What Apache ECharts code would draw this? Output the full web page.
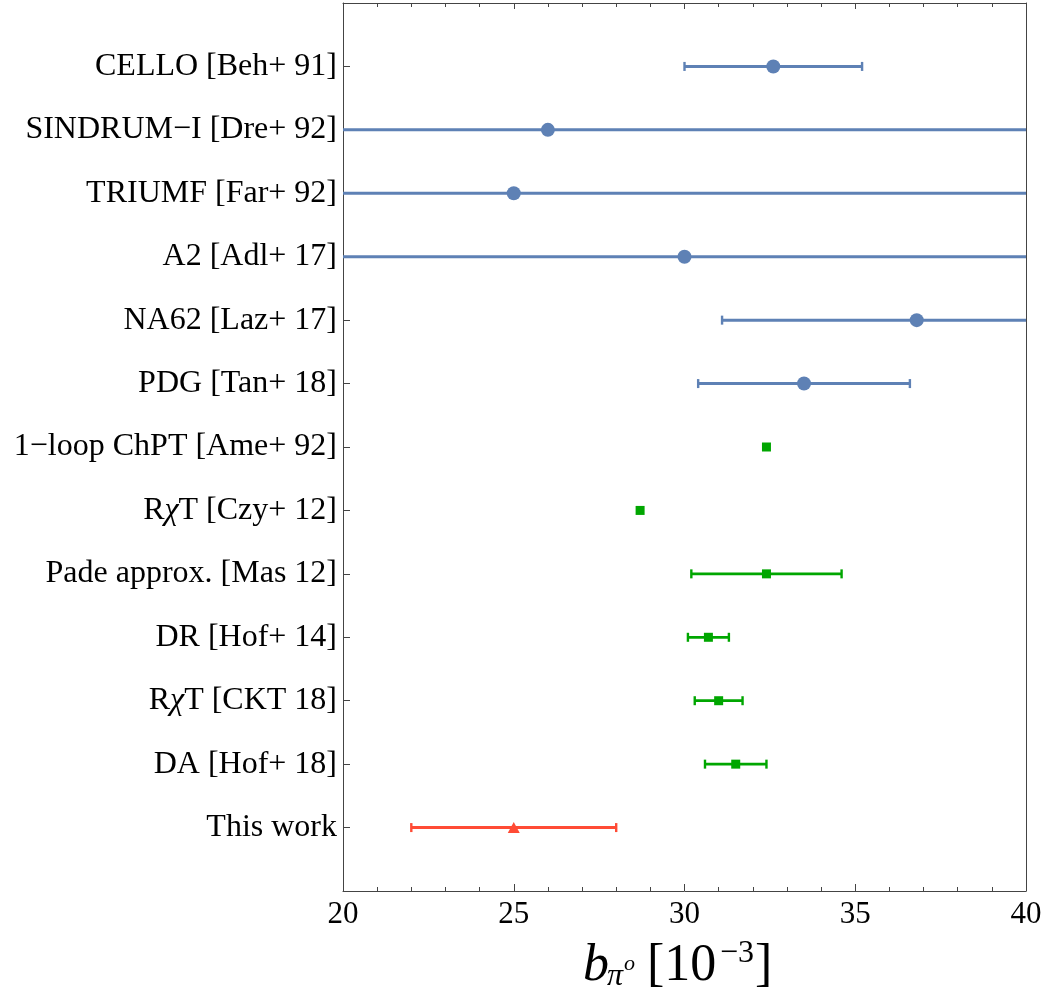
<!DOCTYPE html>
<html>
<head>
<meta charset="utf-8">
<script src="https://cdn.jsdelivr.net/npm/echarts@6/dist/echarts.min.js"></script>
<style>
  html, body { margin: 0; padding: 0; background: #fff; }
  #chart { width: 1059px; height: 994px; }
</style>
</head>
<body>
<div id="chart"></div>
<script>
// Rows, top to bottom
const rowLabels = [
  'CELLO [Beh+ 91]',
  'SINDRUM\u2212I [Dre+ 92]',
  'TRIUMF [Far+ 92]',
  'A2 [Adl+ 17]',
  'NA62 [Laz+ 17]',
  'PDG [Tan+ 18]',
  '1\u2212loop ChPT [Ame+ 92]',
  'R\u03C7T [Czy+ 12]',
  'Pade approx. [Mas 12]',
  'DR [Hof+ 14]',
  'R\u03C7T [CKT 18]',
  'DA [Hof+ 18]',
  'This work'
];

// Central values of b (units of 1e-3) and symmetric uncertainties
const centralValues = [32.6, 26.0, 25.0, 30.0, 36.8, 33.5, 32.4, 28.7, 32.4, 30.7, 31.0, 31.5, 25.0];
const uncertainties = [2.6, 24.5, 30.0, 10.8, 5.7, 3.1, 0, 0, 2.2, 0.6, 0.7, 0.9, 3.0];

// Which group each row belongs to: experiment, theory, this work
const rowGroups = ['exp', 'exp', 'exp', 'exp', 'exp', 'exp', 'th', 'th', 'th', 'th', 'th', 'th', 'ours'];

const xTicks = [20, 25, 30, 35, 40];

const groupStyle = {
  exp:  { color: '#5e81b5', symbol: 'circle',   size: 14,       lineWidth: 3 },
  th:   { color: '#00a600', symbol: 'rect',     size: 9,        lineWidth: 2.8 },
  ours: { color: '#ff4b35', symbol: 'triangle', size: [12, 11], lineWidth: 3 }
};

const SERIF = "'Liberation Serif', 'DejaVu Serif', serif";

function pointsFor(group) {
  const out = [];
  centralValues.forEach((v, i) => { if (rowGroups[i] === group) out.push([v, i + 1]); });
  return out;
}
function barsFor(group) {
  const out = [];
  centralValues.forEach((v, i) => {
    if (rowGroups[i] === group && uncertainties[i] > 0) {
      out.push([v, v - uncertainties[i], v + uncertainties[i], i + 1]);
    }
  });
  return out;
}

// Horizontal error bar with end caps, clipped to the plot frame
function makeErrorRenderer(color, lw) {
  return function (params, api) {
    const row = api.value(3);
    const lo = api.coord([api.value(1), row]);
    const hi = api.coord([api.value(2), row]);
    const cs = params.coordSys;
    const left = cs.x, right = cs.x + cs.width;
    const x0 = Math.max(lo[0], left), x1 = Math.min(hi[0], right);
    const y = lo[1];
    const capH = 4.5;
    const children = [{
      type: 'line',
      shape: { x1: x0, y1: y, x2: x1, y2: y },
      style: { stroke: color, lineWidth: lw }
    }];
    if (lo[0] >= left) {
      children.push({ type: 'line', shape: { x1: lo[0], y1: y - capH, x2: lo[0], y2: y + capH },
        style: { stroke: color, lineWidth: 2.4 } });
    }
    if (hi[0] <= right) {
      children.push({ type: 'line', shape: { x1: hi[0], y1: y - capH, x2: hi[0], y2: y + capH },
        style: { stroke: color, lineWidth: 2.4 } });
    }
    return { type: 'group', children: children };
  };
}

function richLabel(name) {
  // italic chi in the resonance-chiral-theory labels
  if (name.indexOf('\u03C7') >= 0) {
    const parts = name.split('\u03C7');
    return '{n|' + parts[0] + '}{i|\u03C7}{n|' + parts[1] + '}';
  }
  return '{n|' + name + '}';
}

const series = [];
['exp', 'th', 'ours'].forEach(g => {
  const st = groupStyle[g];
  series.push({
    type: 'custom',
    renderItem: makeErrorRenderer(st.color, st.lineWidth),
    data: barsFor(g),
    encode: { x: [1, 2], y: 3 },
    z: 2,
    silent: true
  });
  series.push({
    type: 'scatter',
    data: pointsFor(g),
    symbol: st.symbol,
    symbolSize: st.size,
    itemStyle: { color: st.color, opacity: 1 },
    z: 3,
    silent: true
  });
});

const axisLineStyle = { color: '#444', width: 1 };
const titleFont = "'Liberation Serif'";

const option = {
  backgroundColor: '#fff',
  animation: false,
  grid: { left: 343, right: 33, top: 3, bottom: 103, containLabel: false },
  xAxis: [{
    type: 'value', min: xTicks[0], max: xTicks[xTicks.length - 1], interval: 5,
    position: 'bottom',
    axisLine: { show: true, onZero: false, lineStyle: axisLineStyle },
    axisTick: { show: true, inside: true, length: 7, lineStyle: axisLineStyle },
    minorTick: { show: true, splitNumber: 5, length: 4, lineStyle: axisLineStyle },
    splitLine: { show: false },
    axisLabel: { fontFamily: SERIF, fontSize: 31, color: '#000', margin: 8 }
  }, {
    type: 'value', min: xTicks[0], max: xTicks[xTicks.length - 1], interval: 5,
    position: 'top',
    axisLine: { show: true, onZero: false, lineStyle: axisLineStyle },
    axisTick: { show: true, inside: true, length: 6, lineStyle: axisLineStyle },
    minorTick: { show: true, splitNumber: 5, length: 4, lineStyle: axisLineStyle },
    splitLine: { show: false },
    axisLabel: { show: false }
  }],
  yAxis: [{
    type: 'value', min: 0, max: rowLabels.length + 1, interval: 1, inverse: true,
    position: 'left',
    axisLine: { show: true, onZero: false, lineStyle: axisLineStyle },
    axisTick: {
      show: true, inside: true, length: 7, lineStyle: axisLineStyle,
      customValues: rowLabels.map((_, i) => i + 1)
    },
    splitLine: { show: false },
    axisLabel: {
      margin: 6,
      customValues: rowLabels.map((_, i) => i + 1),
      formatter: v => (v >= 1 && v <= rowLabels.length) ? richLabel(rowLabels[v - 1]) : '',
      rich: {
        n: { fontFamily: SERIF, fontSize: 32, color: '#000' },
        i: { fontFamily: SERIF, fontSize: 32, color: '#000', fontStyle: 'italic' }
      }
    }
  }, {
    type: 'value', min: 0, max: rowLabels.length + 1, inverse: true,
    position: 'right',
    axisLine: { show: true, onZero: false, lineStyle: axisLineStyle },
    axisTick: { show: false },
    splitLine: { show: false },
    axisLabel: { show: false }
  }],
  // axis title: b_{pi^o} [10^{-3}]
  graphic: [
    { type: 'text', x: 583, y: 940, style: { text: 'b', font: 'italic 52px ' + titleFont, fill: '#000' } },
    { type: 'text', x: 607, y: 961, style: { text: '\u03C0', font: 'italic 32px ' + titleFont, fill: '#000' } },
    { type: 'text', x: 624, y: 953, style: { text: 'o', font: 'italic 22px ' + titleFont, fill: '#000' } },
    { type: 'text', x: 647, y: 940, style: { text: '[10', font: '52px ' + titleFont, fill: '#000' } },
    { type: 'text', x: 720, y: 938, style: { text: '\u22123', font: '32px ' + titleFont, fill: '#000' } },
    { type: 'text', x: 755, y: 940, style: { text: ']', font: '52px ' + titleFont, fill: '#000' } }
  ],
  series: series
};

const chart = echarts.init(document.getElementById('chart'), null, { renderer: 'canvas' });
chart.setOption(option);
</script>
</body>
</html>
